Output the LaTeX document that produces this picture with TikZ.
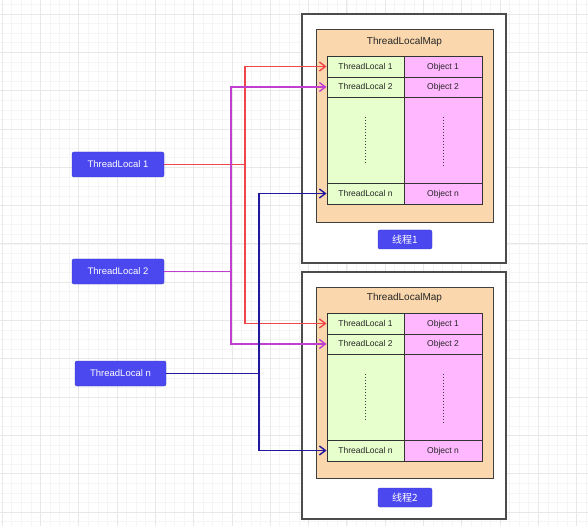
\documentclass[tikz,border=0pt]{standalone}
\usepackage{fontspec}
\setmainfont{Liberation Sans}
\newfontfamily\cjk{Noto Sans CJK SC}
\usetikzlibrary{positioning, arrows.meta}

\definecolor{tlblue}{HTML}{4B48F0}
\definecolor{tlborder}{HTML}{3A36C8}
\definecolor{mapfill}{HTML}{FAD7AC}
\definecolor{keyfill}{HTML}{E6FFCC}
\definecolor{objfill}{HTML}{FFB8FF}
\definecolor{redline}{HTML}{F0454A}
\definecolor{purpleline}{HTML}{C03FD0}
\definecolor{blueline}{HTML}{20189E}

\begin{document}
\begin{tikzpicture}[
    x=1pt, y=-1pt,
    gridmajor/.style={draw=black!9, line width=0.6pt},
    gridminor/.style={draw=black!4, line width=0.4pt},
    threadbox/.style={rectangle, draw=black!70, line width=1.2pt, fill=white,
                      minimum width=204pt, minimum height=249pt},
    mapbox/.style={rectangle, draw=black!75, line width=0.8pt, fill=mapfill,
                   minimum width=177pt, minimum height=193pt},
    keycell/.style={rectangle, draw=black!80, line width=0.9pt, fill=keyfill,
                    minimum width=77pt, inner sep=0pt, text=black!85,
                    text height=6.2pt, text depth=0.6pt,
                    font=\fontsize{8.5}{10}\selectfont},
    objcell/.style={keycell, fill=objfill, minimum width=78pt},
    tlnode/.style={rectangle, rounded corners=2pt, draw=tlborder, fill=tlblue,
                   text=white, minimum width=92pt, minimum height=25pt,
                   font=\fontsize{9.5}{11}\selectfont},
    tagnode/.style={tlnode, minimum width=54pt, minimum height=19pt,
                    inner sep=0pt, font=\fontsize{10}{12}\selectfont},
    titletext/.style={font=\fontsize{10}{12}\selectfont, text=black!85},
    dotline/.style={dotted, line width=1pt, black!75},
    conn/.style={line width=1.4pt},
    arrow/.style={conn, -{Straight Barb[length=6pt, width=9pt]}}
]
    \useasboundingbox (0,0) rectangle (588,526);
    \fill[white] (0,0) rectangle (588,526);

    % === Background grid ===
    \foreach \gx in {2,11.575,...,588} \draw[gridminor] (\gx,0) -- (\gx,526);
    \foreach \gy in {4.4,13.975,...,526} \draw[gridminor] (0,\gy) -- (588,\gy);
    \foreach \gx in {2,40.3,...,588} \draw[gridmajor] (\gx,0) -- (\gx,526);
    \foreach \gy in {14,52.3,...,526} \draw[gridmajor] (0,\gy) -- (588,\gy);

    % === Thread 1 ===
    \begin{scope}
        \node[threadbox] (thread1) at (404, 138.5) {};
        \node[mapbox] (map1) at (404.5, 125.5) {};
        \node[titletext] (title1) at (404.5, 42) {ThreadLocalMap};

        \node[keycell, minimum height=21pt] (t1k1) at (365.5, 66.5) {ThreadLocal 1};
        \node[keycell, minimum height=20pt] (t1k2) at (365.5, 87) {ThreadLocal 2};
        \node[keycell, minimum height=86pt] (t1kgap) at (365.5, 140) {};
        \node[keycell, minimum height=21pt] (t1kn) at (365.5, 193.5) {ThreadLocal n};

        \node[objcell, minimum height=21pt] (t1o1) at (443, 66.5) {Object 1};
        \node[objcell, minimum height=20pt] (t1o2) at (443, 87) {Object 2};
        \node[objcell, minimum height=86pt] (t1ogap) at (443, 140) {};
        \node[objcell, minimum height=21pt] (t1on) at (443, 193.5) {Object n};

        \draw[dotline] ([yshift=-20pt]t1kgap.north) -- ([yshift=20pt]t1kgap.south);
        \draw[dotline] ([yshift=-20pt]t1ogap.north) -- ([yshift=18pt]t1ogap.south);

        \node[tagnode] (tag1) at (405, 239.5) {\cjk 线程1};
    \end{scope}

    % === Thread 2 ===
    \begin{scope}[shift={(0, 257)}]
        \node[threadbox, minimum height=247pt] (thread2) at (404, 138.5) {};
        \node[mapbox, minimum height=191pt] (map2) at (404.5, 125.5) {};
        \node[titletext] (title2) at (404.5, 41) {ThreadLocalMap};

        \node[keycell, minimum height=21pt] (t2k1) at (365.5, 66.5) {ThreadLocal 1};
        \node[keycell, minimum height=20pt] (t2k2) at (365.5, 87) {ThreadLocal 2};
        \node[keycell, minimum height=86pt] (t2kgap) at (365.5, 140) {};
        \node[keycell, minimum height=21pt] (t2kn) at (365.5, 193.5) {ThreadLocal n};

        \node[objcell, minimum height=21pt] (t2o1) at (443, 66.5) {Object 1};
        \node[objcell, minimum height=20pt] (t2o2) at (443, 87) {Object 2};
        \node[objcell, minimum height=86pt] (t2ogap) at (443, 140) {};
        \node[objcell, minimum height=21pt] (t2on) at (443, 193.5) {Object n};

        \draw[dotline] ([yshift=-20pt]t2kgap.north) -- ([yshift=20pt]t2kgap.south);
        \draw[dotline] ([yshift=-20pt]t2ogap.north) -- ([yshift=18pt]t2ogap.south);

        \node[tagnode] (tag2) at (405, 240.5) {\cjk 线程2};
    \end{scope}

    % === ThreadLocal objects ===
    \node[tlnode] (tl1) at (118, 164.5) {ThreadLocal 1};
    \node[tlnode] (tl2) at (118, 271.5) {ThreadLocal 2};
    \node[tlnode, minimum width=91pt] (tln) at (120.5, 373.5) {ThreadLocal n};

    \coordinate (redbus) at (245, 0);
    \coordinate (purplebus) at (231, 0);
    \coordinate (bluebus) at (259, 0);

    % === Connectors ===
    \draw[conn, redline] (tl1.east) -- (tl1.east -| redbus);
    \draw[arrow, redline] (tl1.east -| redbus) |- (t1k1.west);
    \draw[arrow, redline] (tl1.east -| redbus) |- (t2k1.west);

    \draw[conn, purpleline] (tl2.east) -- (tl2.east -| purplebus);
    \draw[arrow, purpleline] (tl2.east -| purplebus) |- (t1k2.west);
    \draw[arrow, purpleline] (tl2.east -| purplebus) |- (t2k2.west);

    \draw[conn, blueline] (tln.east) -- (tln.east -| bluebus);
    \draw[arrow, blueline] (tln.east -| bluebus) |- (t1kn.west);
    \draw[arrow, blueline] (tln.east -| bluebus) |- (t2kn.west);

\end{tikzpicture}
\end{document}
